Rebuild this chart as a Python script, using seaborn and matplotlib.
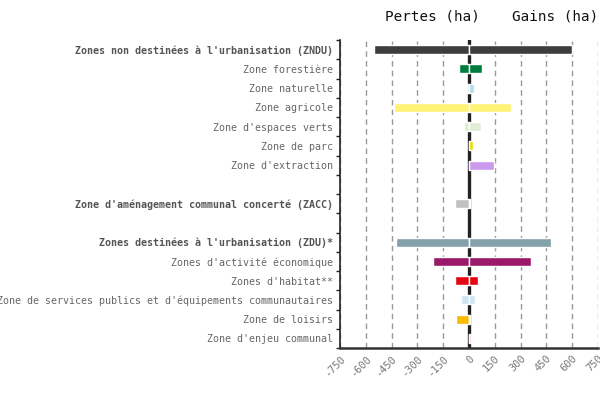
import numpy as np
import pandas as pd
import seaborn as sns
import matplotlib
matplotlib.use("Agg")
import matplotlib.pyplot as plt

categories = [
    "Zones non destinées à l'urbanisation (ZNDU)",
    "Zone forestière",
    "Zone naturelle",
    "Zone agricole",
    "Zone d'espaces verts",
    "Zone de parc",
    "Zone d'extraction",
    " ",
    "Zone d'aménagement communal concerté (ZACC)",
    "  ",
    "Zones destinées à l'urbanisation (ZDU)*",
    "Zones d'activité économique",
    "Zones d'habitat**",
    "Zone de services publics et d'équipements communautaires",
    "Zone de loisirs",
    "Zone d'enjeu communal",
]
pertes = [-550, -58, -12, -438, -29, 0, 0, np.nan, -82, np.nan, -426, -210, -82, -47, -76, 0]
gains = [600, 76, 29, 245, 70, 24, 146, np.nan, 3, np.nan, 479, 362, 53, 35, 6, 12]
colors = ["#3d3d3d", "#007b3e", "#b3dde3", "#fff275", "#e1ebd6", "#e8dc00", "#cc99ee",
          "#ffffff", "#c0c0c0", "#ffffff", "#84a0aa", "#9b186b", "#e30613", "#cfe4f5",
          "#fbba00", "#f9c9f0"]
bold_rows = [0, 8, 10]
xticks = [-750, -600, -450, -300, -150, 0, 150, 300, 450, 600, 750]

df = pd.DataFrame({"cat": categories, "pertes": pertes, "gains": gains})
pal = dict(zip(categories, colors))

sns.set_style("white")
plt.rcParams["font.family"] = ["DejaVu Sans Mono", "DejaVu Sans"]

fig = plt.figure(figsize=(6, 4), dpi=100)
ax = fig.add_axes([0.5667, 0.13, 0.43, 0.77])

for col in ["pertes", "gains"]:
    sns.barplot(data=df, y="cat", x=col, hue="cat", palette=pal, legend=False,
                orient="h", width=0.48, edgecolor="white", linewidth=1.0,
                saturation=1, order=categories, hue_order=categories, ax=ax, zorder=3)

ax.axvline(0, color="#222222", lw=2.4, zorder=2)

ax.set_xlim(-750, 750)
ax.set_ylim(15.5, -0.5)
ax.set_xticks(xticks)
ax.set_xticklabels([str(v) for v in xticks], rotation=45, ha="right",
                   rotation_mode="anchor", fontsize=7.5, color="#777777")
ax.grid(axis="x", linestyle=(0, (4, 3)), color="#999999", linewidth=1)
ax.grid(axis="y", visible=False)
ax.set_axisbelow(True)

ax.set_yticks(range(len(categories)))
ax.set_yticklabels(categories, fontsize=7.2, color="#666666")
for i, lab in enumerate(ax.get_yticklabels()):
    if i in bold_rows:
        lab.set_fontweight("bold")
        lab.set_color("#555555")
ax.tick_params(axis="y", which="major", length=0, pad=5)
ax.set_yticks(np.arange(-0.5, 16, 1), minor=True)
ax.tick_params(axis="y", which="minor", length=3, width=1, color="#222222", left=True)
ax.tick_params(axis="x", length=0, pad=4)

ax.set_xlabel("")
ax.set_ylabel("")
for s in ["top", "right"]:
    ax.spines[s].set_visible(False)
ax.spines["left"].set_color("#222222")
ax.spines["left"].set_linewidth(1.2)
ax.spines["bottom"].set_color("#333333")
ax.spines["bottom"].set_linewidth(1.8)

fig.text(385 / 600, 1 - 17 / 400, "Pertes (ha)", ha="left", va="center",
         fontsize=10.3, color="#111111")
fig.text(512 / 600, 1 - 17 / 400, "Gains (ha)", ha="left", va="center",
         fontsize=10.3, color="#111111")

fig.savefig("out.png", dpi=100)
